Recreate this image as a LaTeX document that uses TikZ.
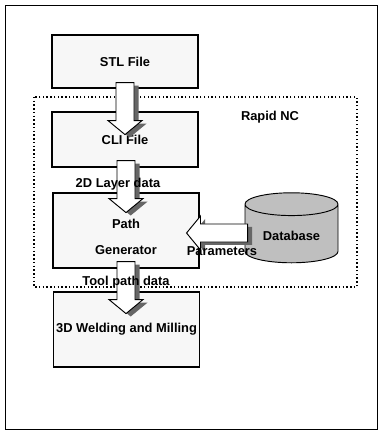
\documentclass[tikz,border=0pt]{standalone}
\usepackage{fontspec}
\setmainfont{Liberation Sans}
\usetikzlibrary{shapes.geometric,shadows}

\begin{document}
\begin{tikzpicture}[x=0.03cm,y=-0.03cm,
  font=\bfseries\fontsize{11}{13}\selectfont,
  box/.style={draw,line width=1pt,fill=gray!6,minimum width=4.38cm,inner sep=0pt},
  fat/.style={draw,line width=0.8pt,fill=white,
    drop shadow={shadow xshift=4pt,shadow yshift=-2.5pt,fill=black!60,opacity=1}}]
\useasboundingbox (0,0) rectangle (382,431);
\newcommand{\downblock}[1]{#1 ++(-9,0) -- ++(0,38) -- ++(-8,0) -- ++(17,14) -- ++(17,-14) -- ++(-8,0) -- ++(0,-38) -- cycle}
\newcommand{\leftblock}[1]{#1 ++(0,-9) -- ++(-47,0) -- ++(0,-8) -- ++(-14,17) -- ++(14,17) -- ++(0,-8) -- ++(47,0) -- cycle}
  \draw (5,5) rectangle (377,429);
  \draw[dotted,line width=1.2pt] (34,97) rectangle (357,287);
  % boxes
  \node[box,minimum height=1.59cm] (stl) at (125,61.5) {STL File};
  \node[box,minimum height=1.65cm] (cli) at (125,139.5) {CLI File};
  \node[box,minimum height=2.25cm] (gen) at (126,230.5) {};
  \node[box,minimum height=2.25cm] (weld) at (126.5,329.5) {3D Welding and Milling};
  \node[cylinder,shape border rotate=90,draw,line width=0.8pt,fill=gray!50,aspect=0.35,
    minimum width=2.79cm,minimum height=2.1cm] (db) at (291.5,236) {Database};
  \node (rnc) at (270,117) {Rapid NC};
  % block arrows
  \draw[fat] \downblock{([shift={(0,-6)}]stl.south)};
  \draw[fat] \downblock{([shift={(1,-7)}]cli.south)};
  \draw[fat] \downblock{([shift={(0,-7)}]gen.south)};
  \draw[fat] \leftblock{([shift={(3,-3)}]db.west)};
  %%%%%%%%%%%%%%%% labels on top
  \node[align=center] (gentxt) at ([shift={(0,6.5)}]gen.center) {Path\\[9pt]Generator};
  \node (lay) at (118,184) {2D Layer data};
  \node (tool) at (126,282) {Tool path data};
  \node (par) at (222,251) {Parameters};
\end{tikzpicture}
\end{document}
